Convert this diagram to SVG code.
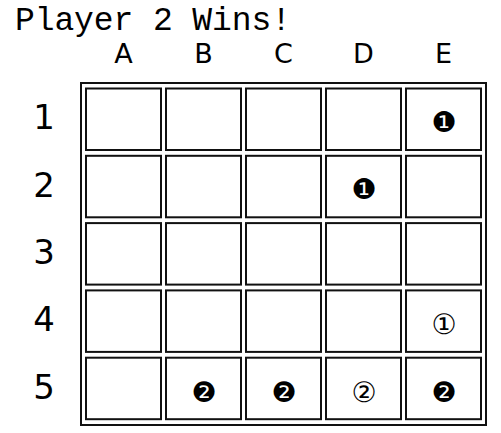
<svg xmlns="http://www.w3.org/2000/svg" width="501" height="433" viewBox="0 0 501 433">
<style>
.bg{fill:#ffffff}
.outer{fill:none;stroke:#111;stroke-width:2}
.cell{fill:#ffffff;stroke:#111;stroke-width:2}
.title{font-family:"Liberation Mono","DejaVu Sans Mono",monospace;font-size:33px;fill:#000}
.col{font-family:"DejaVu Sans","Liberation Sans",sans-serif;font-size:27px;fill:#000;text-anchor:middle}
.row{font-family:"DejaVu Sans","Liberation Sans",sans-serif;font-size:34px;fill:#000;text-anchor:middle}
.mark{font-family:"DejaVu Sans","Noto Sans",sans-serif;font-size:28px;fill:#000;text-anchor:middle}
</style>
<rect class="bg" x="0" y="0" width="501" height="433"/>
<g id="title"><text class="title" x="15" y="29.5" textLength="276" lengthAdjust="spacing">Player 2 Wins!</text></g>
<g id="column-labels">
<text class="col" x="123.5" y="62.5">A</text>
<text class="col" x="203.5" y="62.5">B</text>
<text class="col" x="283.5" y="62.5">C</text>
<text class="col" x="363.5" y="62.5">D</text>
<text class="col" x="443.5" y="62.5">E</text>
</g>
<g id="row-labels">
<text class="row" x="44" y="129.3">1</text>
<text class="row" x="44" y="196.6">2</text>
<text class="row" x="44" y="263.9">3</text>
<text class="row" x="44" y="331.2">4</text>
<text class="row" x="44" y="398.5">5</text>
</g>
<g id="board">
<rect class="outer" x="81" y="83" width="405" height="342"/>
<g id="row1">
<g id="A1"><rect class="cell" x="86" y="88.5" width="75" height="61.5"/></g>
<g id="B1"><rect class="cell" x="166" y="88.5" width="75" height="61.5"/></g>
<g id="C1"><rect class="cell" x="246" y="88.5" width="75" height="61.5"/></g>
<g id="D1"><rect class="cell" x="326" y="88.5" width="75" height="61.5"/></g>
<g id="E1"><rect class="cell" x="406" y="88.5" width="75" height="61.5"/><text class="mark" x="444" y="131.6">❶</text></g>
</g>
<g id="row2">
<g id="A2"><rect class="cell" x="86" y="155.8" width="75" height="61.5"/></g>
<g id="B2"><rect class="cell" x="166" y="155.8" width="75" height="61.5"/></g>
<g id="C2"><rect class="cell" x="246" y="155.8" width="75" height="61.5"/></g>
<g id="D2"><rect class="cell" x="326" y="155.8" width="75" height="61.5"/><text class="mark" x="364" y="198.8">❶</text></g>
<g id="E2"><rect class="cell" x="406" y="155.8" width="75" height="61.5"/></g>
</g>
<g id="row3">
<g id="A3"><rect class="cell" x="86" y="223.1" width="75" height="61.5"/></g>
<g id="B3"><rect class="cell" x="166" y="223.1" width="75" height="61.5"/></g>
<g id="C3"><rect class="cell" x="246" y="223.1" width="75" height="61.5"/></g>
<g id="D3"><rect class="cell" x="326" y="223.1" width="75" height="61.5"/></g>
<g id="E3"><rect class="cell" x="406" y="223.1" width="75" height="61.5"/></g>
</g>
<g id="row4">
<g id="A4"><rect class="cell" x="86" y="290.4" width="75" height="61.5"/></g>
<g id="B4"><rect class="cell" x="166" y="290.4" width="75" height="61.5"/></g>
<g id="C4"><rect class="cell" x="246" y="290.4" width="75" height="61.5"/></g>
<g id="D4"><rect class="cell" x="326" y="290.4" width="75" height="61.5"/></g>
<g id="E4"><rect class="cell" x="406" y="290.4" width="75" height="61.5"/><text class="mark" x="444" y="334.3">①</text></g>
</g>
<g id="row5">
<g id="A5"><rect class="cell" x="86" y="357.7" width="75" height="61.5"/></g>
<g id="B5"><rect class="cell" x="166" y="357.7" width="75" height="61.5"/><text class="mark" x="204" y="402.1">❷</text></g>
<g id="C5"><rect class="cell" x="246" y="357.7" width="75" height="61.5"/><text class="mark" x="284" y="402.1">❷</text></g>
<g id="D5"><rect class="cell" x="326" y="357.7" width="75" height="61.5"/><text class="mark" x="364" y="402.1">②</text></g>
<g id="E5"><rect class="cell" x="406" y="357.7" width="75" height="61.5"/><text class="mark" x="444" y="402.1">❷</text></g>
</g>
</g>
</svg>
